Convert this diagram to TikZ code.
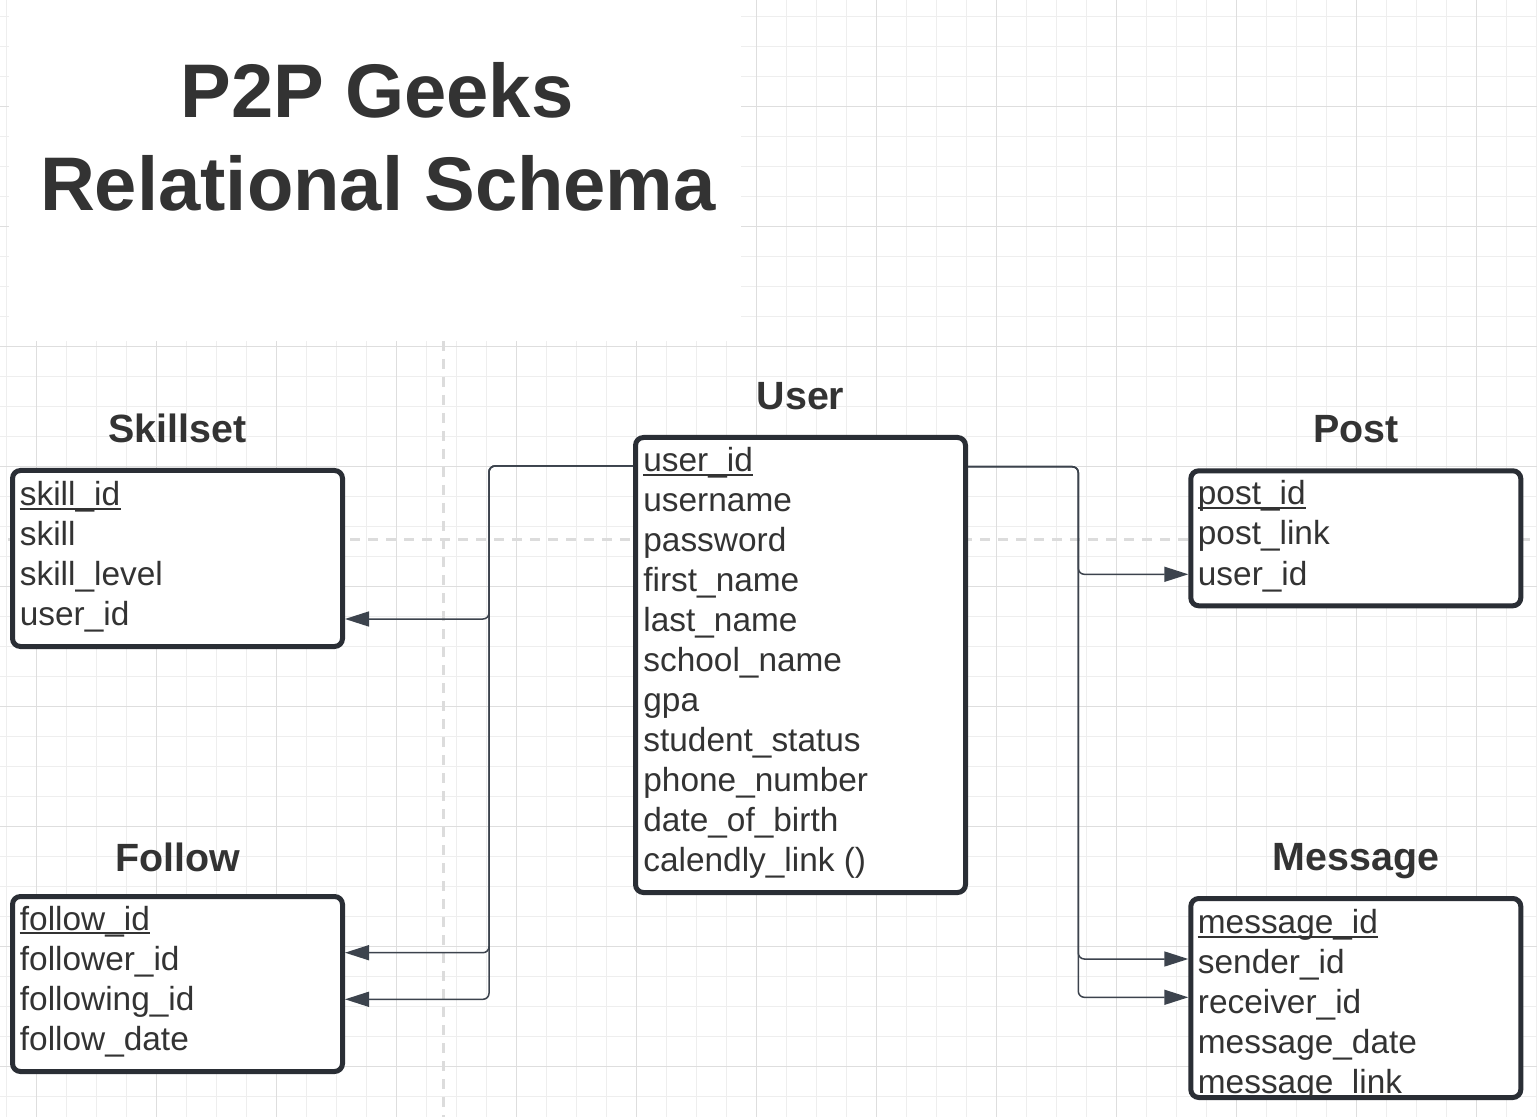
\documentclass[tikz,border=0pt]{standalone}
\usepackage{fontspec}
\setmainfont{Liberation Sans}
\usetikzlibrary{arrows.meta}
\definecolor{ink}{HTML}{333333}
\definecolor{edge}{HTML}{2A2E35}
\definecolor{wire}{HTML}{3C434D}
\definecolor{gridminor}{HTML}{EEEEEE}
\definecolor{gridmajor}{HTML}{DEDEDE}
\definecolor{guide}{HTML}{DCDCDC}
\begin{document}
\begin{tikzpicture}[x=0.5pt,y=-0.5pt,
  tbl/.style={draw=edge,fill=white,line width=2.5pt,rounded corners=4pt,inner sep=0,minimum width=165pt},
  hdr/.style={anchor=base,text=ink,font=\bfseries\fontsize{19.7}{23}\selectfont},
  attr/.style={anchor=base west,inner sep=0,text=ink,font=\fontsize{16.7}{20}\selectfont},
  ul/.style={draw=ink,line width=1pt},
  fk/.style={draw=wire,line width=0.75pt,rounded corners=3pt,-{Triangle[length=12pt,width=7.5pt]}}]
  \useasboundingbox (0,0) rectangle (1537,1117);
  \fill[white] (0,0) rectangle (1537,1117);
  \foreach \x in {6.7,36.7,...,1537} \draw[gridminor,line width=0.5pt] (\x,0) -- (\x,1117);
  \foreach \y in {16.7,46.7,...,1117} \draw[gridminor,line width=0.5pt] (0,\y) -- (1537,\y);
  \foreach \x in {36.7,156.7,...,1537} \draw[gridmajor,line width=0.6pt] (\x,0) -- (\x,1117);
  \foreach \y in {106.7,226.7,...,1117} \draw[gridmajor,line width=0.6pt] (0,\y) -- (1537,\y);
  \fill[white] (9,0) rectangle (741,341);
  \draw[guide,line width=1.5pt,dash pattern=on 5pt off 4pt] (443,341) -- (443,1117);
  \draw[guide,line width=1.5pt,dash pattern=on 5pt off 4pt] (8,539) -- (1537,539);

  \node[anchor=base,text=ink,font=\bfseries\fontsize{38}{46}\selectfont] (title1) at (377,118) {P2P Geeks};
  \node[anchor=base,text=ink,font=\bfseries\fontsize{38}{46}\selectfont] (title2) at (378,211) {Relational Schema};

  \node[tbl,minimum height=88pt] (skill) at (177.5,558.5) {};
  \node[tbl,minimum height=227.5pt] (user) at (800.5,665) {};
  \node[tbl,minimum height=67.5pt] (post) at (1355.8,538.3) {};
  \node[tbl,minimum height=87.5pt] (follow) at (177.5,984) {};
  \node[tbl,minimum height=99.5pt] (msg) at (1355.8,998) {};

  \node[hdr] (skillhdr) at (skill.north |- 0,443) {Skillset};
  \node[hdr] (userhdr) at (user.north |- 0,410) {User};
  \node[hdr] (posthdr) at (post.north |- 0,443) {Post};
  \node[hdr] (followhdr) at (follow.north |- 0,871) {Follow};
  \node[hdr] (msghdr) at (msg.north |- 0,870) {Message};

  \foreach \t [count=\i] in {skill\_id,skill,skill\_level,user\_id}
    \node[attr] (s\i) at (19.5,{465.5+40*\i}) {\t};
  \foreach \t [count=\i] in {user\_id,username,password,first\_name,last\_name,school\_name,gpa,student\_status,phone\_number,date\_of\_birth,calendly\_link ()}
    \node[attr] (u\i) at (643,{431.7+40*\i}) {\t};
  \foreach \t [count=\i] in {post\_id,post\_link,user\_id}
    \node[attr] (p\i) at (1197.5,{465+40*\i}) {\t};
  \foreach \t [count=\i] in {follow\_id,follower\_id,following\_id,follow\_date}
    \node[attr] (f\i) at (19.5,{890+40*\i}) {\t};
  \begin{scope}
    \clip ([shift={(5,5)}]msg.north west) rectangle ([shift={(-5,-5)}]msg.south east);
    \foreach \t [count=\i] in {message\_id,sender\_id,receiver\_id,message\_date,message\_link}
      \node[attr] (m\i) at (1197.5,{893.3+40*\i}) {\t};
  \end{scope}
  \foreach \n in {s1,u1,p1,f1,m1}
    \draw[ul] ([yshift=-1.7pt]\n.base west) -- ([yshift=-1.7pt]\n.base east);

  \coordinate (lbus) at (489,466);
  \coordinate (rbus) at (1078.3,466.7);
  \draw[fk] (user.west |- lbus) -| (lbus |- 0,619) -- (skill.east |- 0,619);
  \draw[fk] (user.west |- lbus) -| (lbus |- 0,952.7) -- (follow.east |- 0,952.7);
  \draw[fk] (user.west |- lbus) -| (lbus |- 0,999.3) -- (follow.east |- 0,999.3);
  \draw[fk] (user.east |- rbus) -| (rbus |- 0,574.3) -- (post.west |- 0,574.3);
  \draw[fk] (user.east |- rbus) -| (rbus |- 0,959) -- (msg.west |- 0,959);
  \draw[fk] (user.east |- rbus) -| (rbus |- 0,997.3) -- (msg.west |- 0,997.3);
\end{tikzpicture}
\end{document}
